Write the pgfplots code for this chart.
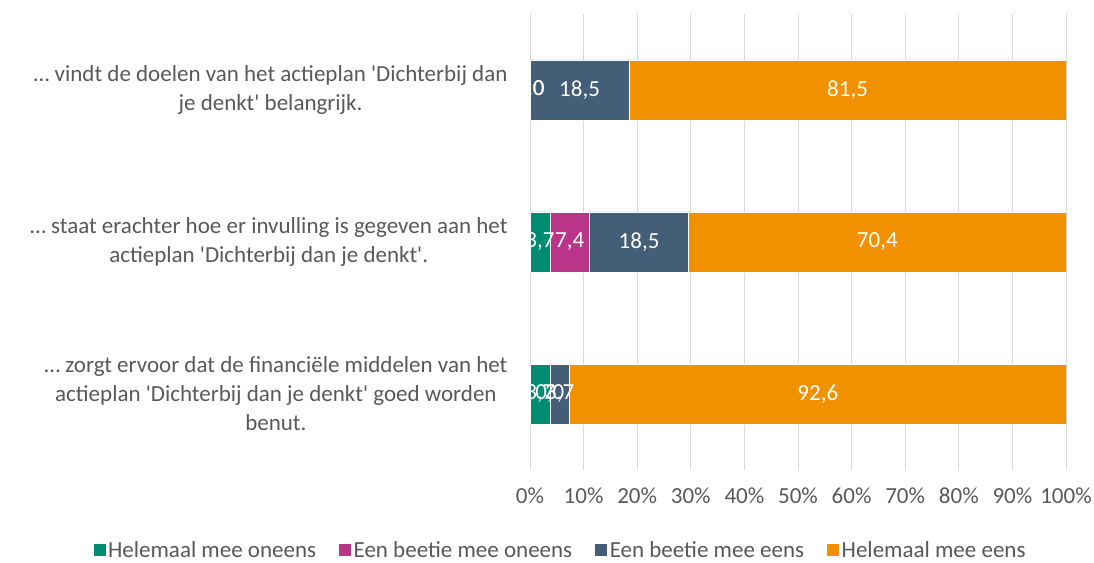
\documentclass[border=0pt]{standalone}
\usepackage{pgfplots}
\pgfplotsset{compat=1.18}
\usepackage{fontspec}
\setmainfont{Carlito}
\definecolor{cTeal}{RGB}{0,140,112}
\definecolor{cMag}{RGB}{186,52,138}
\definecolor{cSlate}{RGB}{69,94,120}
\definecolor{cOrange}{RGB}{242,145,0}
\definecolor{cText}{RGB}{89,89,89}
\definecolor{cGrid}{RGB}{217,217,217}
\newcommand{\q}{\textquotesingle}
\begin{document}
\begin{tikzpicture}
\useasboundingbox (0,0) rectangle (1094pt,562pt);
\begin{axis}[
  at={(530pt,92pt)}, anchor=south west,
  scale only axis, width=536pt, height=456pt,
  xbar stacked, bar width=60pt,
  xmin=0, xmax=100, ymin=-0.5, ymax=2.5,
  ytick={0,1,2},
  yticklabels={
    {… zorgt ervoor dat de financiële middelen van het\\actieplan \q Dichterbij dan je denkt\q{} goed worden\\benut.},
    {… staat erachter hoe er invulling is gegeven aan het\\actieplan \q Dichterbij dan je denkt\q.},
    {… vindt de doelen van het actieplan \q Dichterbij dan\\je denkt\q{} belangrijk.}},
  yticklabel style={align=center, font=\fontsize{23}{29}\selectfont, text=cText, xshift=-19pt},
  axis line style={draw=none},
  major tick length=0pt,
  xmajorgrids, grid style={cGrid, line width=1pt},
  xtick={0,10,...,100},
  xticklabel={\pgfmathprintnumber{\tick}\%},
  /pgf/number format/assume math mode=true,
  xticklabel style={font=\fontsize{23}{27}\selectfont, text=cText, yshift=-14pt},
  legend style={at={(0.056,-0.1754)}, anchor=center, draw=none, legend columns=4,
    font=\fontsize{23}{27}\selectfont, text=cText,
    /tikz/every even column/.append style={column sep=20pt}},
  legend image code/.code={\fill[#1] (0pt,-6.5pt) rectangle (13pt,6.5pt);},
]
\addplot[fill=cTeal, draw=white, line width=0.6pt] coordinates {(3.7,0) (3.7,1) (0,2)};
\addplot[fill=cMag, draw=white, line width=0.6pt] coordinates {(0,0) (7.4,1) (0,2)};
\addplot[fill=cSlate, draw=white, line width=0.6pt] coordinates {(3.7,0) (18.5,1) (18.5,2)};
\addplot[fill=cOrange, draw=white, line width=0.6pt,
  nodes near coords, point meta=explicit symbolic,
  every node near coord/.append style={text=white, font=\fontsize{23}{27}\selectfont}]
  table[meta=lab] {
x y lab
92.6 0 92,6
70.4 1 70,4
81.5 2 81,5
};
\legend{Helemaal mee oneens, Een beetie mee oneens, Een beetie mee eens, Helemaal mee eens}
% labels of the first three segments, drawn on top of all bars; x = start + end of each segment
% (the stacked-bar label style places the label at half of this value, the segment centre)
\addplot[stack plots=false, only marks, mark=none, forget plot,
  nodes near coords, point meta=explicit symbolic,
  every node near coord/.style={anchor=center, text=white, font=\fontsize{23}{27}\selectfont}]
  table[meta=lab] {
x y lab
0 2 0,0
0 2 0,0
18.5 2 18,5
3.7 1 3,7
14.8 1 7,4
40.7 1 18,5
3.7 0 3,7
7.4 0 0,0
11.1 0 3,7
};
\end{axis}
\end{tikzpicture}
\end{document}
